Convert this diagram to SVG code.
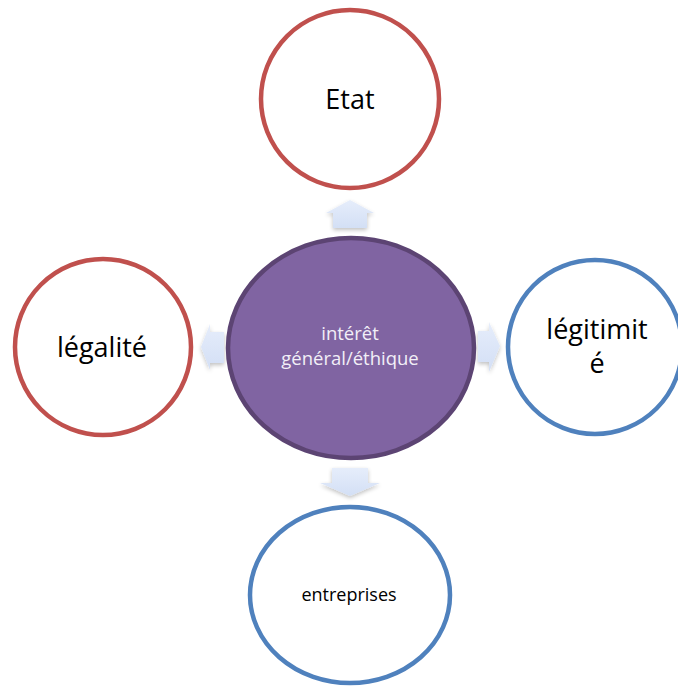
<svg xmlns="http://www.w3.org/2000/svg" width="678" height="686" viewBox="0 0 678 686">
<style>
.red{fill:#fff;stroke:#c0504d;stroke-width:4.5}
.blue{fill:#fff;stroke:#4f81bd;stroke-width:4.5}
.big{font-family:"Open Sans","Noto Sans","Liberation Sans",sans-serif;font-size:27px;fill:#000;text-anchor:middle}
.small{font-family:"Open Sans","Noto Sans","Liberation Sans",sans-serif;font-size:18px;fill:#000;text-anchor:middle}
.center{font-family:"Open Sans","Noto Sans","Liberation Sans",sans-serif;font-size:18.5px;fill:#f2eff7;text-anchor:middle}
.arr{fill:url(#ag);filter:url(#sh)}
</style>
<defs>
<linearGradient id="ag" x1="0" y1="0" x2="0" y2="1">
<stop offset="0" stop-color="#e6edfb"/>
<stop offset="1" stop-color="#d3dff5"/>
</linearGradient>
<filter id="sh" x="-30%" y="-30%" width="160%" height="160%">
<feGaussianBlur in="SourceAlpha" stdDeviation="2"/>
<feOffset dx="0" dy="2" result="b"/>
<feComponentTransfer><feFuncA type="linear" slope="0.25"/></feComponentTransfer>
<feMerge><feMergeNode/><feMergeNode in="SourceGraphic"/></feMerge>
</filter>
</defs>
<g id="connectors">
<polygon class="arr" points="350,200 374,213 367,213 367,228 333,228 333,213 326,213"/>
<polygon class="arr" points="332,468 368,468 368,483 380,483 350,496 320,483 332,483"/>
<polygon class="arr" points="201,347 210,324 210,332 224,332 224,363 210,363 210,370"/>
<polygon class="arr" points="500,346 489,322 489,331 478,331 478,362 489,362 489,372"/>
</g>
<g id="node-etat">
<circle class="red" cx="350" cy="99" r="89"/>
<text class="big" x="350" y="109">Etat</text>
</g>
<g id="node-legalite">
<circle class="red" cx="103" cy="347" r="88"/>
<text class="big" x="102" y="357">légalité</text>
</g>
<g id="node-legitimite">
<circle class="blue" cx="595" cy="347" r="87"/>
<text class="big" x="597" y="339">légitimit</text>
<text class="big" x="597" y="373">é</text>
</g>
<g id="node-entreprises">
<ellipse class="blue" cx="350" cy="595" rx="100" ry="88"/>
<text class="small" x="349" y="601">entreprises</text>
</g>
<g id="node-center">
<ellipse cx="351" cy="348" rx="123" ry="110" fill="#8064a2" stroke="#5c4473" stroke-width="4.5"/>
<text class="center" x="350" y="340">intérêt</text>
<text class="center" x="350" y="365">général/éthique</text>
</g>
</svg>
